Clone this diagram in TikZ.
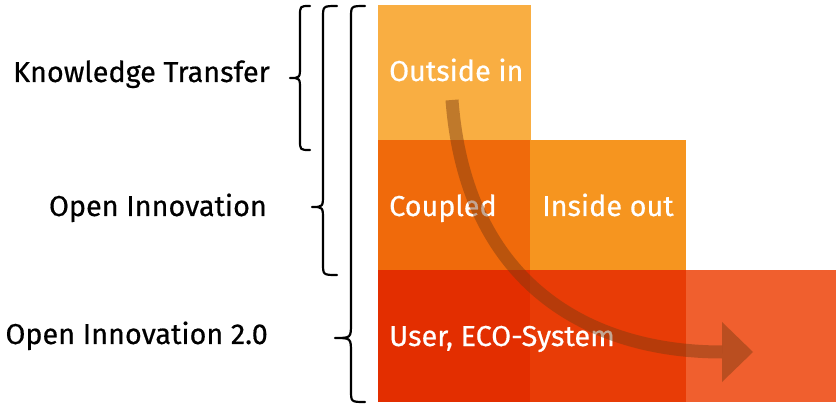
\documentclass[tikz,border=0pt]{standalone}
\usepackage{fontspec}
\setmainfont{Fira Sans}
\newfontfamily\lblfont{Fira Sans}[FakeBold=0.5]
\usetikzlibrary{calc}
\begin{document}
\begin{tikzpicture}[x=1pt,y=-1pt,
  tile/.style={draw=none,inner sep=0pt,outer sep=0pt,anchor=north west},
  wlabel/.style={text=white,anchor=west,inner sep=0pt,text height=20pt,text depth=6pt,font=\lblfont\fontsize{28.8}{34}\selectfont},
  blabel/.style={text=black,anchor=east,inner sep=0pt,text height=20pt,text depth=6pt,font=\lblfont\fontsize{28.8}{34}\selectfont},
  bracepen/.style={draw=black,line width=2.2pt,line cap=round,line join=round}]
\definecolor{cOut}{HTML}{F9AE42}
\definecolor{cCoup}{HTML}{F06A0B}
\definecolor{cIns}{HTML}{F6951F}
\definecolor{cUser}{HTML}{E32E00}
\definecolor{cMid}{HTML}{E83C06}
\definecolor{cRight}{HTML}{F05F2E}
\definecolor{cArrow}{HTML}{7A3A10}
\useasboundingbox (0,0) rectangle (836,406);
% tiles
\node[tile,fill=cOut,minimum width=153pt,minimum height=135pt] (out) at (378,5) {};
\node[tile,fill=cCoup,minimum width=153pt,minimum height=130pt] (coup) at (378,140) {};
\node[tile,fill=cIns,minimum width=156pt,minimum height=130pt] (ins) at (530,140) {};
\node[tile,fill=cUser,minimum width=153pt,minimum height=132pt] (user) at (378,270) {};
\node[tile,fill=cMid,minimum width=156pt,minimum height=132pt] (mid) at (530,270) {};
\node[tile,fill=cRight,minimum width=150pt,minimum height=132pt] (right) at (686,270) {};
% tile texts
\node[wlabel] (tout) at (389,74) {Outside in};
\node[wlabel] (tcoup) at (389,209) {Coupled};
\node[wlabel] (tins) at (542,209) {Inside out};
\node[wlabel] (tuser) at (389,339) {User, ECO-System};
% arrow
\coordinate (as) at (452,100);
\coordinate (ae) at (722,352);
\coordinate (at) at (753,352);
\begin{scope}[opacity=0.45]
\draw[cArrow,line width=13pt,line cap=butt] (as) .. controls (466,285) and (590,352) .. (ae);
\fill[cArrow] ($(ae)+(0,-30)$) -- (at) -- ($(ae)+(0,30)$) -- cycle;
\end{scope}
% braces
\draw[bracepen] (310,6) .. controls (300,6) .. (300,16) -- (300,66) .. controls (300,78) .. (290,78) .. controls (300,78) .. (300,90) -- (300,140) .. controls (300,150) .. (310,150);
\draw[bracepen] (337,6) .. controls (323,6) .. (323,18) -- (323,194) .. controls (323,207) .. (312,207) .. controls (323,207) .. (323,220) -- (323,263) .. controls (323,275) .. (337,275);
\draw[bracepen] (365,6) .. controls (351,6) .. (351,18) -- (351,323) .. controls (351,338) .. (335,338) .. controls (351,338) .. (351,353) -- (351,390) .. controls (351,402) .. (365,402);
% labels
\node[blabel] (kt) at (270,75) {Knowledge Transfer};
\node[blabel] (oi) at (267,209) {Open Innovation};
\node[blabel] (oi2) at (268,337) {Open Innovation 2.0};
\end{tikzpicture}
\end{document}
